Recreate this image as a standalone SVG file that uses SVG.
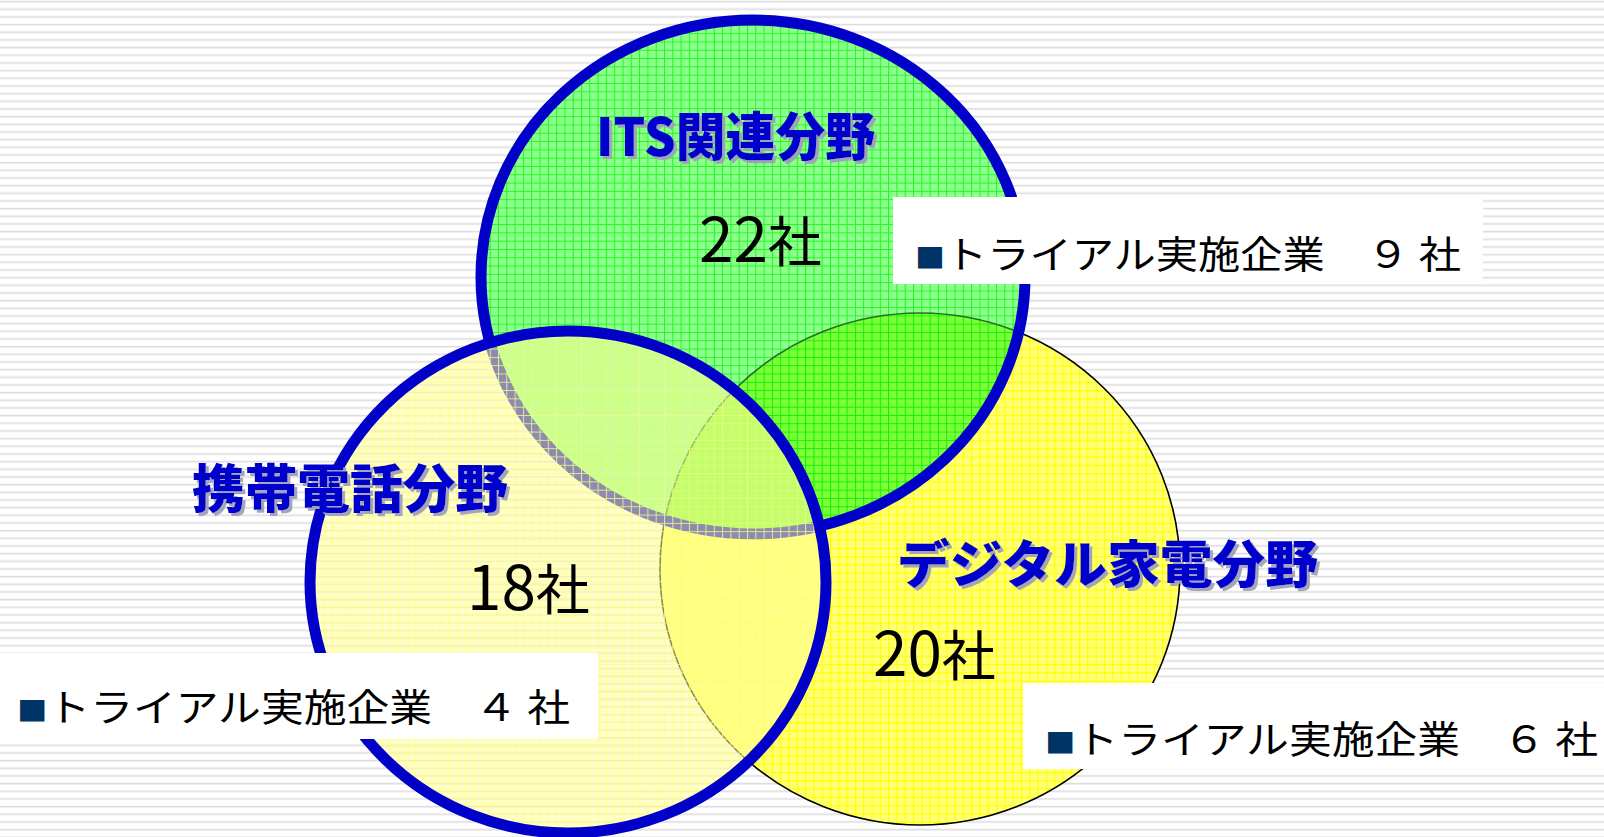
<svg xmlns="http://www.w3.org/2000/svg" width="1604" height="837" viewBox="0 0 1604 837">
<style>
.title{font-family:"Noto Sans CJK JP","Noto Sans CJK SC",sans-serif;font-weight:900;fill:#0000cc;filter:url(#ts)}
.count{font-family:"Noto Sans CJK JP","Noto Sans CJK SC",sans-serif;font-weight:400;fill:#000}
.lbl{font-family:"Noto Sans CJK JP","Noto Sans CJK SC",sans-serif;font-weight:400;font-size:38px;fill:#000}
.sq{fill:#003366;font-size:27px}
.box{fill:#fff}
.ring{fill:none;stroke:#0000c8;stroke-width:11}
</style>
<defs>
<pattern id="bg" width="16" height="7.667" patternUnits="userSpaceOnUse">
<rect width="16" height="7.667" fill="#fff"/>
<rect y="0.8" width="16" height="1" fill="#d9d9d9"/>
<rect y="1.8" width="16" height="1" fill="#ececec"/>
</pattern>
<pattern id="pg" width="8.3" height="8.3" patternUnits="userSpaceOnUse">
<rect width="8.3" height="8.3" fill="#8cff8c"/>
<path d="M0 0.5H8.3M0.5 0V8.3" stroke="#22f522" stroke-width="1"/>
</pattern>
<pattern id="po" width="8.3" height="8.3" patternUnits="userSpaceOnUse">
<rect width="8.3" height="8.3" fill="#7cff34"/>
<path d="M0 0.5H8.3M0.5 0V8.3" stroke="#10ee10" stroke-width="1"/>
</pattern>
<pattern id="py" width="8.3" height="8.3" patternUnits="userSpaceOnUse">
<rect width="8.3" height="8.3" fill="#ffff78"/>
<path d="M0 0.5H8.3M0.5 0V8.3" stroke="#ffff00" stroke-width="1.2"/>
</pattern>
<pattern id="pm" width="8.3" height="8.3" patternUnits="userSpaceOnUse">
<rect width="8.3" height="8.3" fill="#ffff99" fill-opacity="0.55"/>
<path d="M0 0.5H8.3M0.5 0V8.3" stroke="#ffff88" stroke-opacity="0.8" stroke-width="1"/>
</pattern>
<clipPath id="cg"><ellipse cx="753" cy="277" rx="272" ry="257"/></clipPath>
<filter id="ts" x="-5%" y="-20%" width="115%" height="150%">
<feDropShadow dx="3" dy="3" stdDeviation="0.5" flood-color="#a0a0b8" flood-opacity="0.95"/>
</filter>
</defs>
<rect width="1604" height="837" fill="url(#bg)"/>
<g id="digital">
<ellipse cx="920" cy="569" rx="260" ry="256" fill="url(#py)" stroke="#000" stroke-width="1.6"/>
<text class="title" x="897" y="583" font-size="51" textLength="421" lengthAdjust="spacingAndGlyphs">デジタル家電分野</text>
<text class="count" x="873" y="676"><tspan font-size="62">20</tspan><tspan font-size="54">社</tspan></text>
<rect class="box" x="1023" y="683" width="581" height="86"/>
<text class="lbl" x="1045" y="753" textLength="553" lengthAdjust="spacingAndGlyphs"><tspan class="sq">■</tspan>トライアル実施企業　６ 社</text>
</g>
<g id="its">
<ellipse cx="753" cy="277" rx="272" ry="257" fill="url(#pg)"/>
<ellipse cx="920" cy="569" rx="260" ry="256" fill="url(#po)" stroke="#2d6a2d" stroke-width="1.6" clip-path="url(#cg)"/>
<ellipse class="ring" cx="753" cy="277" rx="272" ry="257"/>
<text class="title" x="596" y="156" font-size="52" textLength="279" lengthAdjust="spacingAndGlyphs">ITS関連分野</text>
<text class="count" x="699" y="262"><tspan font-size="62">22</tspan><tspan font-size="54">社</tspan></text>
<rect class="box" x="893" y="197" width="590" height="87"/>
<text class="lbl" x="915" y="268" textLength="546" lengthAdjust="spacingAndGlyphs"><tspan class="sq">■</tspan>トライアル実施企業　９ 社</text>
</g>
<g id="mobile">
<ellipse cx="568" cy="582" rx="258" ry="251" fill="url(#pm)"/>
<ellipse class="ring" cx="568" cy="582" rx="258" ry="251"/>
<text class="title" x="192" y="508" font-size="52" textLength="316" lengthAdjust="spacingAndGlyphs">携帯電話分野</text>
<text class="count" x="467" y="610"><tspan font-size="62">18</tspan><tspan font-size="54">社</tspan></text>
<rect class="box" x="0" y="653" width="598" height="86"/>
<text class="lbl" x="17" y="721" textLength="553" lengthAdjust="spacingAndGlyphs"><tspan class="sq">■</tspan>トライアル実施企業　４ 社</text>
</g>
<g id="connectors"/>
</svg>
